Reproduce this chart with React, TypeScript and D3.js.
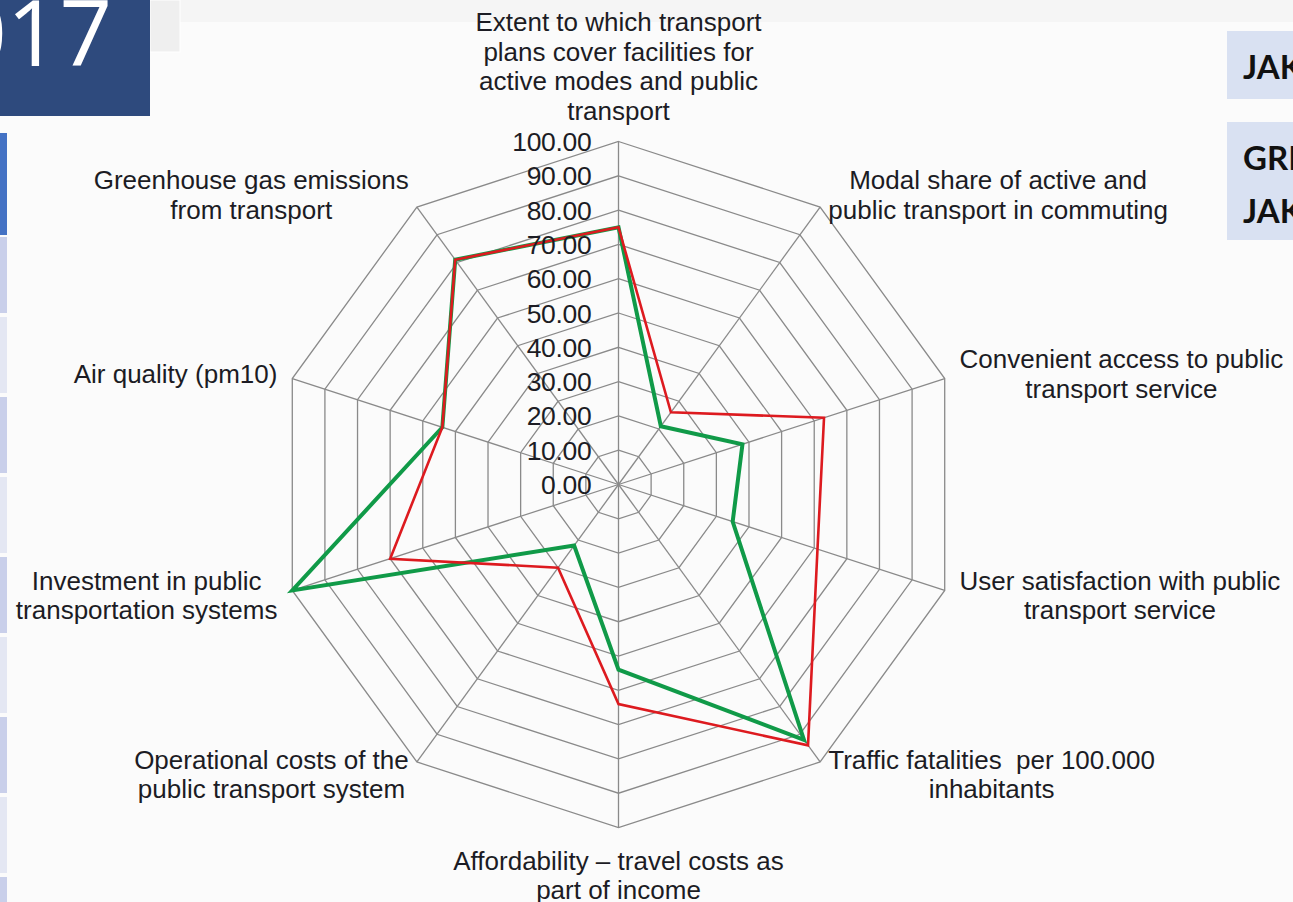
import { useEffect, useRef } from 'react';
import * as d3 from 'd3';

const W = 1293;
const H = 902;

// axes, clockwise from the top
const axes = [
  ['Extent to which transport', 'plans cover facilities for', 'active modes and public', 'transport'],
  ['Modal share of active and', 'public transport in commuting'],
  ['Convenient access to public', 'transport service'],
  ['User satisfaction with public', 'transport service'],
  ['Traffic fatalities  per 100.000', 'inhabitants'],
  ['Affordability \u2013 travel costs as', 'part of income'],
  ['Operational costs of the', 'public transport system'],
  ['Investment in public', 'transportation systems'],
  ['Air quality (pm10)'],
  ['Greenhouse gas emissions', 'from transport'],
];

const greenValues = [75, 21, 38, 35, 92, 54, 22, 100, 54, 81];
const redValues = [75, 26, 63, 61, 94, 64, 30, 70, 54, 81];

const ticks = [0, 10, 20, 30, 40, 50, 60, 70, 80, 90, 100];

const FONT = '"Liberation Sans", Arial, sans-serif';

export default function App() {
  const ref = useRef<SVGSVGElement | null>(null);

  useEffect(() => {
    const svg = d3.select(ref.current);
    svg.selectAll('*').remove();

    // slide background
    svg.append('rect').attr('width', W).attr('height', H).attr('fill', '#fbfbfb');
    svg.append('rect').attr('width', W).attr('height', 22).attr('fill', '#f5f5f5');

    // slide decorations
    svg.append('rect').attr('x', 150).attr('y', 0).attr('width', 30).attr('height', 52)
      .attr('fill', '#efefef').attr('stroke', '#ffffff');
    svg.append('rect').attr('x', 0).attr('y', 0).attr('width', 150).attr('height', 116)
      .attr('fill', '#2e4a7d');
    svg.append('text').attr('x', 112).attr('y', 66).attr('text-anchor', 'end')
      .attr('font-family', '"Open Sans", sans-serif').attr('font-size', 92)
      .attr('fill', '#ffffff').text('2017');

    svg.append('rect').attr('x', 0).attr('y', 133).attr('width', 7).attr('height', 102)
      .attr('fill', '#4472c4');
    d3.range(9).forEach(i => {
      svg.append('rect').attr('x', 0).attr('y', 237 + i * 80).attr('width', 7).attr('height', 76)
        .attr('fill', i % 2 === 0 ? '#c9cfea' : '#e4e7f3');
    });

    svg.append('rect').attr('x', 1227).attr('y', 31).attr('width', 70).attr('height', 68)
      .attr('fill', '#d9e1f2');
    svg.append('rect').attr('x', 1227).attr('y', 122).attr('width', 70).attr('height', 118)
      .attr('fill', '#d9e1f2');
    const boxText = svg.append('g').attr('font-family', 'Lato, "Open Sans", sans-serif')
      .attr('font-weight', 'bold').attr('font-size', 33).attr('fill', '#111');
    boxText.append('text').attr('x', 1243).attr('y', 79).text('JAKARTA');
    boxText.append('text').attr('x', 1243).attr('y', 170).text('GREATER');
    boxText.append('text').attr('x', 1243).attr('y', 223).text('JAKARTA');

    // radar
    const cx = 618.5;
    const cy = 484.5;
    const radius = 343;
    const n = axes.length;
    const r = d3.scaleLinear().domain([0, 100]).range([0, radius]);
    const angle = (i: number) => (i * 2 * Math.PI) / n;
    const pt = (i: number, v: number): [number, number] => [
      cx + r(v) * Math.sin(angle(i)),
      cy - r(v) * Math.cos(angle(i)),
    ];

    const g = svg.append('g');

    ticks.slice(1).forEach(t => {
      const pts = d3.range(n).map(i => pt(i, t));
      g.append('path')
        .attr('d', d3.line()(pts) + 'Z')
        .attr('fill', 'none')
        .attr('stroke', '#8a8a8a')
        .attr('stroke-width', 1.3);
    });
    d3.range(n).forEach(i => {
      const [x, y] = pt(i, 100);
      g.append('line').attr('x1', cx).attr('y1', cy).attr('x2', x).attr('y2', y)
        .attr('stroke', '#8a8a8a').attr('stroke-width', 1.3);
    });

    // series
    const drawSeries = (vals: number[], color: string, width: number) => {
      const pts = vals.map((v, i) => pt(i, v));
      g.append('path')
        .attr('d', d3.line()(pts) + 'Z')
        .attr('fill', 'none')
        .attr('stroke', color)
        .attr('stroke-width', width)
        .attr('stroke-linejoin', 'miter');
    };
    drawSeries(greenValues, '#109a48', 4);
    drawSeries(redValues, '#dd1a1f', 2.6);

    // tick labels
    g.selectAll('text.tick')
      .data(ticks)
      .enter()
      .append('text')
      .attr('class', 'tick')
      .attr('x', cx - 27)
      .attr('y', d => cy - r(d))
      .attr('dy', '0.36em')
      .attr('text-anchor', 'end')
      .attr('font-family', FONT)
      .attr('font-size', 26.5)
      .attr('letter-spacing', -0.3)
      .attr('fill', '#1c1c24')
      .text(d => d.toFixed(2));

    // axis labels
    const lh = 29.5;
    axes.forEach((lines, i) => {
      const a = angle(i);
      const [vx, vy] = pt(i, 100);
      const txt = g.append('text')
        .attr('font-family', FONT)
        .attr('font-size', 26)
        .attr('fill', '#1c1c24')
        .attr('text-anchor', 'middle')
        .style('white-space', 'pre');
      const spans = lines.map(l => txt.append('tspan').attr('dy', '0.36em').text(l));
      const widths = spans.map(s => (s.node() as SVGTSpanElement).getComputedTextLength());
      const maxW = d3.max(widths) || 0;
      const s = Math.sin(a);
      let x0 = vx;
      let yTop: number;
      if (Math.abs(s) < 0.01) {
        if (Math.cos(a) > 0) yTop = vy - 31 - (lines.length - 1) * lh;
        else yTop = vy + 33;
      } else {
        const gap = 4 + 12 * s * s;
        x0 = vx + Math.sign(s) * (gap + maxW / 2);
        const mid = vy - 15 * Math.cos(a);
        yTop = mid - ((lines.length - 1) * lh) / 2;
      }
      spans.forEach((sp, k) => {
        sp.attr('x', x0).attr('y', yTop + k * lh);
      });
    });
  }, []);

  return (
    <div style={{ position: 'absolute', left: 0, top: 0, width: W, height: H, overflow: 'hidden' }}>
      <svg ref={ref} width={W} height={H} style={{ display: 'block' }}></svg>
    </div>
  );
}
